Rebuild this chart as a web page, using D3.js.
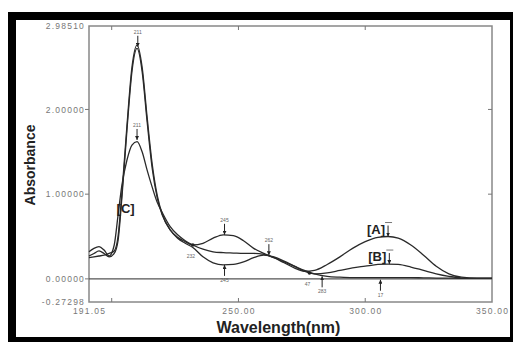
<!DOCTYPE html>
<html>
<head>
<meta charset="utf-8">
<script src="https://cdn.jsdelivr.net/npm/d3@7"></script>
<style>
  body { margin: 0; background: #fff; }
  svg { display: block; }
  .tl { font-family: Arial, "Liberation Sans", sans-serif; font-size: 8.5px; fill: #777; letter-spacing: 1.2px; }
  .tiny { font-family: Arial, "Liberation Sans", sans-serif; font-size: 5px; fill: #666; }
</style>
</head>
<body>
<div id="chart"></div>
<script>
// wavelengths (nm) and absorbance of the three spectra
const wavelength = [191.05, 193, 195, 197, 199, 201, 202.5, 204, 206, 208, 210, 212, 214, 216, 218, 220, 223, 226, 229, 232, 236, 240, 244, 248, 252, 256, 260, 264, 268, 272, 276, 280, 285, 290, 295, 300, 305, 309, 313, 318, 323, 328, 333, 338, 344, 350];
const seriesA = [0.27, 0.30, 0.33, 0.30, 0.26, 0.30, 0.45, 0.95, 1.75, 2.45, 2.72, 2.45, 1.85, 1.30, 0.95, 0.75, 0.58, 0.49, 0.44, 0.40, 0.42, 0.48, 0.52, 0.51, 0.45, 0.36, 0.30, 0.25, 0.19, 0.13, 0.09, 0.10, 0.17, 0.26, 0.36, 0.44, 0.49, 0.50, 0.48, 0.40, 0.28, 0.15, 0.06, 0.02, 0.01, 0.01];
const seriesB = [0.25, 0.26, 0.27, 0.28, 0.30, 0.33, 0.50, 1.00, 1.80, 2.50, 2.76, 2.50, 1.90, 1.35, 0.98, 0.76, 0.58, 0.48, 0.42, 0.37, 0.26, 0.19, 0.165, 0.17, 0.20, 0.25, 0.28, 0.26, 0.21, 0.15, 0.09, 0.06, 0.07, 0.10, 0.13, 0.15, 0.17, 0.175, 0.17, 0.14, 0.10, 0.06, 0.03, 0.01, 0.005, 0.005];
const seriesC = [0.32, 0.36, 0.38, 0.34, 0.27, 0.40, 0.75, 1.10, 1.40, 1.58, 1.62, 1.50, 1.28, 1.08, 0.90, 0.78, 0.62, 0.52, 0.45, 0.40, 0.35, 0.32, 0.31, 0.305, 0.30, 0.30, 0.29, 0.25, 0.20, 0.15, 0.10, 0.06, 0.03, 0.02, 0.015, 0.015, 0.015, 0.015, 0.015, 0.015, 0.012, 0.01, 0.008, 0.006, 0.005, 0.005];

const xLabels = [191.05, 250, 300, 350];
const xTicks = [200, 250, 300];
const yLabels = [2.98510, 2.0, 1.0, 0.0, -0.27298];
const yTicks = [2.0, 1.0, 0.0];

// little peak markers: [wavelength, absorbance, direction, label]
const markers = [
  [210.3, 2.74, "down", "211"],
  [210, 1.64, "down", "211"],
  [244.5, 0.52, "down", "245"],
  [244.5, 0.165, "up", "245"],
  [262, 0.28, "down", "262"],
  [232, 0.40, "dot", "232"],
  [278, 0.07, "dot", "47"],
  [283, 0.03, "up", "283"],
  [306, -0.01, "up", "17"]
];
// spectrum labels: [text, wavelength, absorbance of arrow tip]
const curveLabels = [["[A]", 309, 0.50], ["[B]", 309.5, 0.175]];

const W = 513, H = 342;
const m = {left: 89, right: 21, top: 26, bottom: 40};

const svg = d3.select("#chart").append("svg")
    .attr("width", W).attr("height", H);

// black photo frame
svg.append("rect").attr("x", 8).attr("y", 12).attr("width", W - 8).attr("height", H - 12).attr("fill", "#000");
svg.append("rect").attr("x", 16).attr("y", 20).attr("width", 494).attr("height", 317).attr("fill", "#fff");

const x = d3.scaleLinear().domain([191.05, 350]).range([m.left, W - m.right]);
const y = d3.scaleLinear().domain([-0.27298, 2.98510]).range([H - m.bottom, m.top]);

const defs = svg.append("defs");
defs.append("marker")
    .attr("id", "ah").attr("viewBox", "0 0 6 6").attr("refX", 6).attr("refY", 3)
    .attr("markerWidth", 4).attr("markerHeight", 4).attr("orient", "auto")
  .append("path").attr("d", "M0,0L6,3L0,6Z").attr("fill", "#222");

// plot frame
svg.append("rect")
    .attr("x", x(191.05)).attr("y", y(2.98510))
    .attr("width", x(350) - x(191.05)).attr("height", y(-0.27298) - y(2.98510))
    .attr("fill", "none").attr("stroke", "#888").attr("stroke-width", 1.5);

// zero line
svg.append("line")
    .attr("x1", x(191.05)).attr("x2", x(350)).attr("y1", y(0)).attr("y2", y(0))
    .attr("stroke", "#555").attr("stroke-width", 1.2);

// x axis labels and tick marks
const xAxis = svg.append("g").attr("transform", `translate(0,${y(-0.27298)})`)
    .call(d3.axisBottom(x).tickValues(xLabels).tickSize(0).tickPadding(6).tickFormat(d3.format(".2f")));
xAxis.select(".domain").remove();
xAxis.selectAll("text").attr("class", "tl").attr("font-size", null).attr("font-family", null).attr("fill", null);

svg.append("g").selectAll("line").data(xTicks).join("line")
    .attr("x1", d => x(d)).attr("x2", d => x(d))
    .attr("y1", y(-0.27298)).attr("y2", y(-0.27298) - 4)
    .attr("stroke", "#777");
svg.append("g").selectAll("line").data(xTicks).join("line")
    .attr("x1", d => x(d)).attr("x2", d => x(d))
    .attr("y1", y(2.98510)).attr("y2", y(2.98510) + 4)
    .attr("stroke", "#777");

// y axis labels and tick marks
const yAxis = svg.append("g").attr("transform", `translate(${x(191.05)},0)`)
    .call(d3.axisLeft(y).tickValues(yLabels).tickSize(0).tickPadding(4).tickFormat(d3.format(".5f")));
yAxis.select(".domain").remove();
yAxis.selectAll("text").attr("class", "tl").attr("font-size", null).attr("font-family", null).attr("fill", null)
    .text(d => d3.format(".5f")(d).replace("−", "-"));

svg.append("g").selectAll("line").data(yTicks).join("line")
    .attr("x1", x(191.05) - 4).attr("x2", x(191.05))
    .attr("y1", d => y(d)).attr("y2", d => y(d))
    .attr("stroke", "#777");
svg.append("g").selectAll("line").data(yTicks.slice(0, 2)).join("line")
    .attr("x1", x(350) - 4).attr("x2", x(350))
    .attr("y1", d => y(d)).attr("y2", d => y(d))
    .attr("stroke", "#777");

// axis titles
svg.append("text")
    .attr("x", (x(191.05) + x(350)) / 2 - 12).attr("y", 333)
    .attr("text-anchor", "middle")
    .style("font-family", "Arial, 'Liberation Sans', sans-serif")
    .style("font-weight", "bold").style("font-size", "16px").style("fill", "#222")
    .text("Wavelength(nm)");
svg.append("text")
    .attr("transform", `translate(35,165) rotate(-90)`)
    .attr("text-anchor", "middle")
    .style("font-family", "Arial, 'Liberation Sans', sans-serif")
    .style("font-weight", "bold").style("font-size", "14px").style("fill", "#222")
    .text("Absorbance");

// spectra
const line = d3.line()
    .x(d => x(d[0])).y(d => y(d[1]))
    .curve(d3.curveMonotoneX);

[seriesA, seriesB, seriesC].forEach(s => {
  svg.append("path")
      .datum(wavelength.map((w, i) => [w, s[i]]))
      .attr("d", line)
      .attr("fill", "none")
      .attr("stroke", "#2a2a2a")
      .attr("stroke-width", 1.3);
});

// peak markers
const mk = svg.append("g");
markers.forEach(([w, a, dir, t]) => {
  const px = x(w), py = y(a);
  if (dir === "down") {
    mk.append("line").attr("x1", px).attr("x2", px).attr("y1", py - 11).attr("y2", py)
        .attr("stroke", "#222").attr("stroke-width", 1).attr("marker-end", "url(#ah)");
    mk.append("text").attr("class", "tiny").attr("x", px).attr("y", py - 13).attr("text-anchor", "middle").text(t);
  } else if (dir === "up") {
    mk.append("line").attr("x1", px).attr("x2", px).attr("y1", py + 11).attr("y2", py)
        .attr("stroke", "#222").attr("stroke-width", 1).attr("marker-end", "url(#ah)");
    mk.append("text").attr("class", "tiny").attr("x", px).attr("y", py + 17).attr("text-anchor", "middle").text(t);
  } else {
    mk.append("circle").attr("cx", px).attr("cy", py).attr("r", 1.8).attr("fill", "#222");
    mk.append("text").attr("class", "tiny").attr("x", px - 2).attr("y", py + 13).attr("text-anchor", "middle").text(t);
  }
});

// spectrum labels [A], [B], [C]
curveLabels.forEach(([t, w, a]) => {
  const px = x(w), py = y(a);
  svg.append("line").attr("x1", px).attr("x2", px).attr("y1", py - 11).attr("y2", py)
      .attr("stroke", "#222").attr("stroke-width", 1).attr("marker-end", "url(#ah)");
  svg.append("line").attr("x1", px - 3).attr("x2", px + 4).attr("y1", py - 14).attr("y2", py - 14)
      .attr("stroke", "#555").attr("stroke-width", 0.8);
  svg.append("text").attr("x", px - 3).attr("y", py - 3).attr("text-anchor", "end")
      .style("font-family", "Arial, 'Liberation Sans', sans-serif")
      .style("font-weight", "bold").style("font-size", "13px").style("fill", "#222")
      .text(t);
});
svg.append("text").attr("x", x(205.5)).attr("y", y(0.78))
    .attr("text-anchor", "middle")
    .style("font-family", "Arial, 'Liberation Sans', sans-serif")
    .style("font-weight", "bold").style("font-size", "13px").style("fill", "#222")
    .text("[C]");
</script>
</body>
</html>
